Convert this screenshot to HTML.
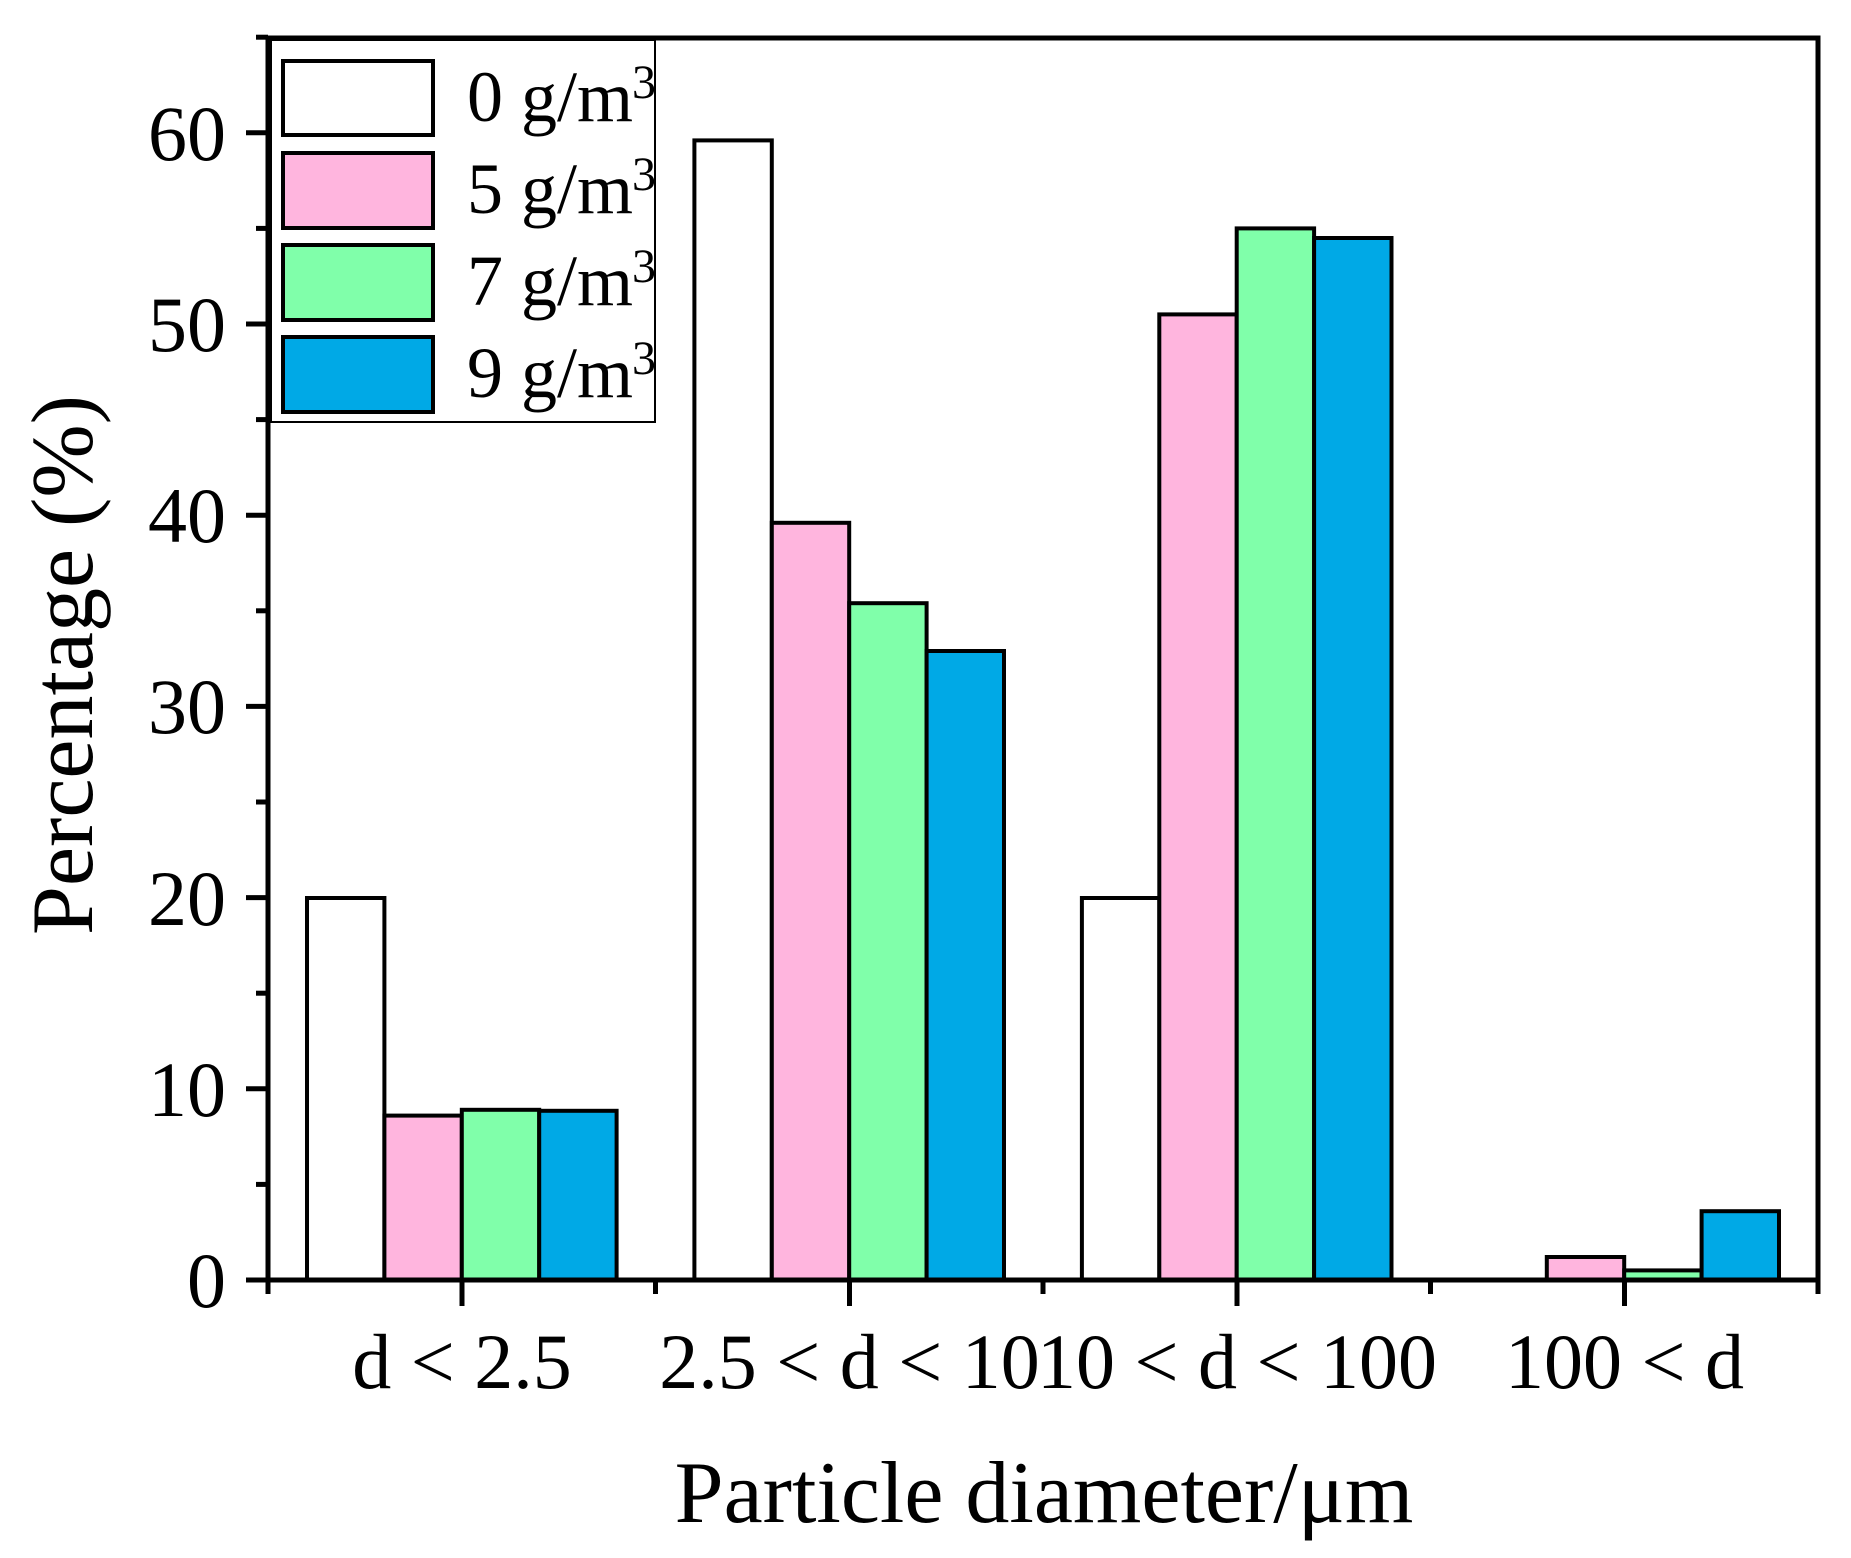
<!DOCTYPE html>
<html><head><meta charset="utf-8"><style>
html,body{margin:0;padding:0;background:#fff;}
svg{display:block;}
text{font-family:"Liberation Serif",serif;fill:#000;}
</style></head><body>
<svg width="1851" height="1558" viewBox="0 0 1851 1558" xmlns="http://www.w3.org/2000/svg">
<g stroke="#000" stroke-width="4">
<rect x="307" y="898" width="77.4" height="382" fill="#fff"/>
<rect x="384.4" y="1115.6" width="77.4" height="164.4" fill="#FFB5DE"/>
<rect x="461.8" y="1109.8" width="77.4" height="170.2" fill="#80FFAA"/>
<rect x="539.2" y="1110.8" width="77.4" height="169.2" fill="#00A9E6"/>
<rect x="694.4" y="140.4" width="77.4" height="1139.6" fill="#fff"/>
<rect x="771.8" y="522.8" width="77.4" height="757.2" fill="#FFB5DE"/>
<rect x="849.2" y="603.2" width="77.4" height="676.8" fill="#80FFAA"/>
<rect x="926.6" y="651" width="77.4" height="629" fill="#00A9E6"/>
<rect x="1081.9" y="898" width="77.4" height="382" fill="#fff"/>
<rect x="1159.3" y="314.4" width="77.4" height="965.6" fill="#FFB5DE"/>
<rect x="1236.7" y="228.4" width="77.4" height="1051.6" fill="#80FFAA"/>
<rect x="1314.1" y="238" width="77.4" height="1042" fill="#00A9E6"/>
<rect x="1546.8" y="1257" width="77.4" height="23" fill="#FFB5DE"/>
<rect x="1624.2" y="1270.4" width="77.4" height="9.6" fill="#80FFAA"/>
<rect x="1701.6" y="1211.2" width="77.4" height="68.8" fill="#00A9E6"/>
</g>
<rect x="268" y="38" width="1550" height="1242" fill="none" stroke="#000" stroke-width="5"/>
<g stroke="#000" stroke-width="5">
<line x1="246" y1="1280" x2="268" y2="1280"/>
<line x1="246" y1="1088.8" x2="268" y2="1088.8"/>
<line x1="246" y1="897.6" x2="268" y2="897.6"/>
<line x1="246" y1="706.4" x2="268" y2="706.4"/>
<line x1="246" y1="515.2" x2="268" y2="515.2"/>
<line x1="246" y1="324" x2="268" y2="324"/>
<line x1="246" y1="132.8" x2="268" y2="132.8"/>
<line x1="256" y1="1184.4" x2="268" y2="1184.4"/>
<line x1="256" y1="993.2" x2="268" y2="993.2"/>
<line x1="256" y1="802" x2="268" y2="802"/>
<line x1="256" y1="610.8" x2="268" y2="610.8"/>
<line x1="256" y1="419.6" x2="268" y2="419.6"/>
<line x1="256" y1="228.4" x2="268" y2="228.4"/>
<line x1="256" y1="37.2" x2="268" y2="37.2"/>
<line x1="462" y1="1280" x2="462" y2="1306"/>
<line x1="849.5" y1="1280" x2="849.5" y2="1306"/>
<line x1="1237" y1="1280" x2="1237" y2="1306"/>
<line x1="1624.5" y1="1280" x2="1624.5" y2="1306"/>
<line x1="268" y1="1280" x2="268" y2="1294"/>
<line x1="655.5" y1="1280" x2="655.5" y2="1294"/>
<line x1="1043" y1="1280" x2="1043" y2="1294"/>
<line x1="1430.5" y1="1280" x2="1430.5" y2="1294"/>
<line x1="1818" y1="1280" x2="1818" y2="1294"/>
</g>
<g font-size="78" text-anchor="end">
<text x="226" y="1307">0</text>
<text x="226" y="1116">10</text>
<text x="226" y="925">20</text>
<text x="226" y="733">30</text>
<text x="226" y="542">40</text>
<text x="226" y="351">50</text>
<text x="226" y="160">60</text>
</g>
<g font-size="78" text-anchor="middle">
<text x="462" y="1388">d &lt; 2.5</text>
<text x="849.5" y="1388">2.5 &lt; d &lt; 10</text>
<text x="1237" y="1388">10 &lt; d &lt; 100</text>
<text x="1624.5" y="1388">100 &lt; d</text>
</g>
<text x="1044" y="1522" font-size="88" text-anchor="middle">Particle diameter/μm</text>
<text transform="translate(92,665) rotate(-90)" font-size="88" text-anchor="middle">Percentage (%)</text>
<rect x="271" y="40" width="384" height="382" fill="#fff" stroke="#000" stroke-width="2"/>
<g stroke="#000" stroke-width="4">
<rect x="283" y="61" width="150" height="74" fill="#fff"/>
<rect x="283" y="153" width="150" height="75" fill="#FFB5DE"/>
<rect x="283" y="245" width="150" height="75" fill="#80FFAA"/>
<rect x="283" y="337" width="150" height="75" fill="#00A9E6"/>
</g>
<g font-size="72">
<text x="467" y="121">0 g/m</text><text x="632" y="98" font-size="48">3</text>
<text x="467" y="213">5 g/m</text><text x="632" y="190" font-size="48">3</text>
<text x="467" y="305">7 g/m</text><text x="632" y="282" font-size="48">3</text>
<text x="467" y="397">9 g/m</text><text x="632" y="374" font-size="48">3</text>
</g>
</svg>
</body></html>
